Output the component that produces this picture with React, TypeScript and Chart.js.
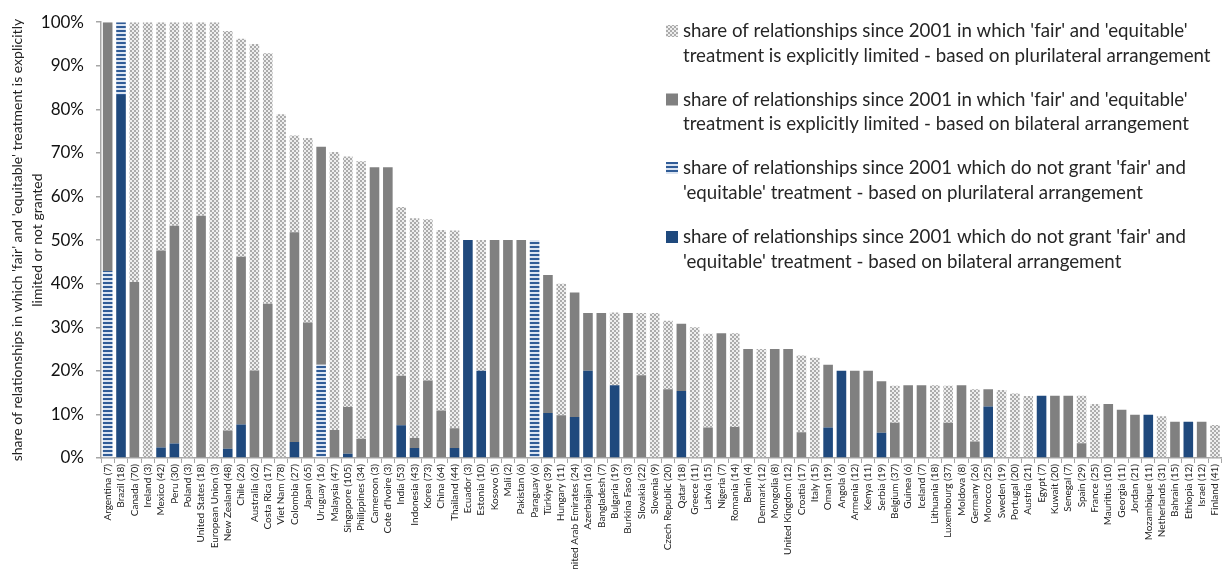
import React, { useEffect, useRef } from "react";
import { Chart, registerables } from "chart.js";

Chart.register(...registerables);

const categories = [
  "Argentina (7)", "Brazil (18)", "Canada (70)", "Ireland (3)", "Mexico (42)", "Peru (30)", "Poland (3)",
  "United States (18)", "European Union (3)", "New Zealand (48)", "Chile (26)", "Australia (62)",
  "Costa Rica (17)", "Viet Nam (78)", "Colombia (27)", "Japan (65)", "Uruguay (16)", "Malaysia (47)",
  "Singapore (105)", "Philippines (34)", "Cameroon (3)", "Cote d'Ivoire (3)", "India (53)",
  "Indonesia (43)", "Korea (73)", "China (64)", "Thailand (44)", "Ecuador (3)", "Estonia (10)",
  "Kosovo (5)", "Mali (2)", "Pakistan (6)", "Paraguay (6)", "Türkiye (39)", "Hungary (11)",
  "United Arab Emirates (24)", "Azerbaijan (16)", "Bangladesh (7)", "Bulgaria (19)", "Burkina Faso (3)",
  "Slovakia (22)", "Slovenia (9)", "Czech Republic (20)", "Qatar (18)", "Greece (11)", "Latvia (15)",
  "Nigeria (7)", "Romania (14)", "Benin (4)", "Denmark (12)", "Mongolia (8)", "United Kingdom (12)",
  "Croatia (17)", "Italy (15)", "Oman (19)", "Angola (6)", "Armenia (12)", "Kenya (11)", "Serbia (19)",
  "Belgium (37)", "Guinea (6)", "Iceland (7)", "Lithuania (18)", "Luxembourg (37)", "Moldova (8)",
  "Germany (26)", "Morocco (25)", "Sweden (19)", "Portugal (20)", "Austria (21)", "Egypt (7)",
  "Kuwait (20)", "Senegal (7)", "Spain (29)", "France (25)", "Mauritius (10)", "Georgia (11)",
  "Jordan (21)", "Mozambique (11)", "Netherlands (31)", "Bahrain (15)", "Ethiopia (12)", "Israel (12)",
  "Finland (41)",
];

// share (%) - do not grant FET, bilateral
const bilateralNotGranted = [
  0, 83.3, 0, 0, 2.4, 3.3, 0, 0, 0, 2.1, 7.7, 0,
  0, 0, 3.7, 0, 0, 0, 1.0, 0, 0, 0, 7.5,
  2.3, 0, 0, 2.3, 50, 20,
  0, 0, 0, 0, 10.3, 0,
  9.4, 20, 0, 16.7, 0,
  0, 0, 0, 15.4, 0, 0,
  0, 0, 0, 0, 0, 0,
  0, 0, 7.0, 20, 0, 0, 5.8,
  0, 0, 0, 0, 0, 0,
  0, 11.8, 0, 0, 0, 14.3,
  0, 0, 0, 0, 0, 0,
  0, 9.9, 0, 0, 8.3, 0,
  0,
];

// share (%) - do not grant FET, plurilateral
const plurilateralNotGranted = [
  42.9, 16.7, 0, 0, 0, 0, 0, 0, 0, 0, 0, 0,
  0, 0, 0, 0, 21.4, 0, 0, 0, 0, 0, 0,
  0, 0, 0, 0, 0, 0,
  0, 0, 0, 50, 0, 0,
  0, 0, 0, 0, 0,
  0, 0, 0, 0, 0, 0,
  0, 0, 0, 0, 0, 0,
  0, 0, 0, 0, 0, 0, 0,
  0, 0, 0, 0, 0, 0,
  0, 0, 0, 0, 0, 0,
  0, 0, 0, 0, 0, 0,
  0, 0, 0, 0, 0, 0,
  0,
];

// share (%) - FET explicitly limited, bilateral
const bilateralLimited = [
  57.1, 0, 40.4, 0, 45.2, 50.0, 0, 55.6, 0, 4.2, 38.5, 20.1,
  35.4, 0, 48.1, 31.1, 50.0, 6.4, 10.7, 4.4, 66.7, 66.7, 11.4,
  2.3, 17.8, 10.9, 4.5, 0, 0,
  50, 50, 50, 0, 31.7, 9.8,
  28.6, 13.3, 33.3, 0, 33.3,
  19.0, 0, 15.8, 15.4, 0, 7.0,
  28.6, 7.1, 25, 0, 25, 25,
  5.9, 0, 14.4, 0, 20, 20, 11.8,
  8.1, 16.7, 16.7, 0, 8.1, 16.7,
  3.8, 4.0, 0, 0, 0, 0,
  14.3, 14.3, 3.4, 0, 12.4, 11.1,
  9.9, 0, 0, 8.3, 0, 8.3,
  0,
];

// share (%) - FET explicitly limited, plurilateral
const plurilateralLimited = [
  0, 0, 59.6, 100, 52.4, 46.7, 100, 44.4, 100, 91.7, 50.0, 74.9,
  57.5, 78.9, 22.2, 42.3, 0, 63.8, 57.5, 63.7, 0, 0, 38.7,
  50.4, 37.0, 41.4, 45.4, 0, 30,
  0, 0, 0, 0, 0, 30.2,
  0, 0, 0, 16.7, 0,
  14.3, 33.3, 15.7, 0, 30.0, 21.5,
  0, 21.5, 0, 25, 0, 0,
  17.6, 23.0, 0, 0, 0, 0, 0,
  8.5, 0, 0, 16.7, 8.5, 0,
  12.0, 0, 15.6, 14.8, 14.2, 0,
  0, 0, 10.9, 12.4, 0, 0,
  0, 0, 9.6, 0, 0, 0,
  7.6,
];

const yTicks = [0, 10, 20, 30, 40, 50, 60, 70, 80, 90, 100];

const yTitle = [
  "share of relationships in which 'fair' and 'equitable' treatment is explicitly",
  "limited or not granted",
];

const legendLines = [
  ["share of relationships since 2001 in which 'fair' and 'equitable'", "treatment is explicitly limited - based on plurilateral arrangement"],
  ["share of relationships since 2001 in which 'fair' and 'equitable'", "treatment is explicitly limited - based on bilateral arrangement"],
  ["share of relationships since 2001 which do not grant 'fair' and", "'equitable' treatment - based on plurilateral arrangement"],
  ["share of relationships since 2001 which do not grant 'fair' and", "'equitable' treatment - based on bilateral arrangement"],
];

const FONT = "Lato, 'Open Sans', sans-serif";
const BLUE = "#1f497d";
const GREY = "#808080";

function makeChecker(): CanvasPattern | string {
  const c = document.createElement("canvas");
  c.width = 4;
  c.height = 4;
  const g = c.getContext("2d");
  if (!g) return "#cccccc";
  g.fillStyle = "#eeeeee";
  g.fillRect(0, 0, 4, 4);
  g.fillStyle = "#ababab";
  g.fillRect(0, 0, 2, 2);
  g.fillRect(2, 2, 2, 2);
  const p = g.createPattern(c, "repeat");
  return p || "#cccccc";
}

function makeStripes(): CanvasPattern | string {
  const c = document.createElement("canvas");
  c.width = 4;
  c.height = 4;
  const g = c.getContext("2d");
  if (!g) return "#5b7fb0";
  g.fillStyle = "#dbe4f1";
  g.fillRect(0, 0, 4, 4);
  g.fillStyle = "#305c97";
  g.fillRect(0, 2, 4, 2);
  const p = g.createPattern(c, "repeat");
  return p || "#5b7fb0";
}

export default function App() {
  const canvasRef = useRef<HTMLCanvasElement | null>(null);

  useEffect(() => {
    const canvas = canvasRef.current;
    if (!canvas) return;
    const checker = makeChecker();
    const stripes = makeStripes();
    const legendFills = [checker, GREY, stripes, BLUE];

    const legendPlugin = {
      id: "customLegend",
      afterDraw(chart: any) {
        const ctx = chart.ctx as CanvasRenderingContext2D;
        ctx.save();
        ctx.font = `18.7px ${FONT}`;
        ctx.textBaseline = "middle";
        ctx.textAlign = "left";
        const baseY = [31, 99.5, 168, 237];
        legendLines.forEach((lines, i) => {
          const y = baseY[i];
          ctx.fillStyle = legendFills[i] as any;
          ctx.fillRect(666, y - 6, 12, 12);
          ctx.fillStyle = "#262626";
          lines.forEach((t, j) => {
            ctx.fillText(t, 683, y + j * 24.5);
          });
        });
        ctx.restore();
      },
    };

    const chart = new Chart(canvas, {
      type: "bar",
      data: {
        labels: categories,
        datasets: [
          { label: "bilateral not granted", data: bilateralNotGranted, backgroundColor: BLUE, borderWidth: 0 },
          { label: "plurilateral not granted", data: plurilateralNotGranted, backgroundColor: stripes as any, borderWidth: 0 },
          { label: "bilateral limited", data: bilateralLimited, backgroundColor: GREY, borderWidth: 0 },
          { label: "plurilateral limited", data: plurilateralLimited, backgroundColor: checker as any, borderWidth: 0 },
        ],
      },
      options: {
        responsive: false,
        animation: false,
        devicePixelRatio: 1,
        layout: { padding: { top: 22, right: 0, bottom: 0, left: 0 } },
        datasets: { bar: { barPercentage: 0.72, categoryPercentage: 1 } },
        plugins: {
          legend: { display: false },
          tooltip: { enabled: false },
        },
        scales: {
          x: {
            stacked: true,
            grid: { drawOnChartArea: false, drawTicks: true, tickLength: 5, color: "#a6a6a6", lineWidth: 1 },
            border: { display: true, color: "#a6a6a6", width: 1.5 },
            ticks: {
              autoSkip: false,
              minRotation: 90,
              maxRotation: 90,
              padding: 1,
              color: "#222222",
              font: { family: FONT, size: 10 },
            },
            afterFit: (scale: any) => {
              scale.height = 111;
            },
          },
          y: {
            stacked: true,
            min: 0,
            max: 100,
            grid: { drawOnChartArea: false, drawTicks: true, tickLength: 5, color: "#a6a6a6", lineWidth: 1.5 },
            border: { display: true, color: "#a6a6a6", width: 1.5 },
            afterBuildTicks: (scale: any) => {
              scale.ticks = yTicks.map((v) => ({ value: v }));
            },
            ticks: {
              padding: 12,
              color: "#111111",
              font: { family: FONT, size: 17 },
              callback: (v: any) => `${v}%`,
            },
            title: {
              display: true,
              text: yTitle,
              color: "#222222",
              font: { family: FONT, size: 14, lineHeight: 1.43 },
              padding: { top: 7, bottom: 0 },
            },
            afterFit: (scale: any) => {
              scale.width = 101;
            },
          },
        },
      },
      plugins: [legendPlugin],
    });

    return () => {
      chart.destroy();
    };
  }, []);

  return (
    <div style={{ position: "fixed", left: 0, top: 0, width: 1228, height: 569, background: "#ffffff" }}>
      <canvas ref={canvasRef} width={1228} height={569} style={{ display: "block", width: 1228, height: 569 }} />
    </div>
  );
}
